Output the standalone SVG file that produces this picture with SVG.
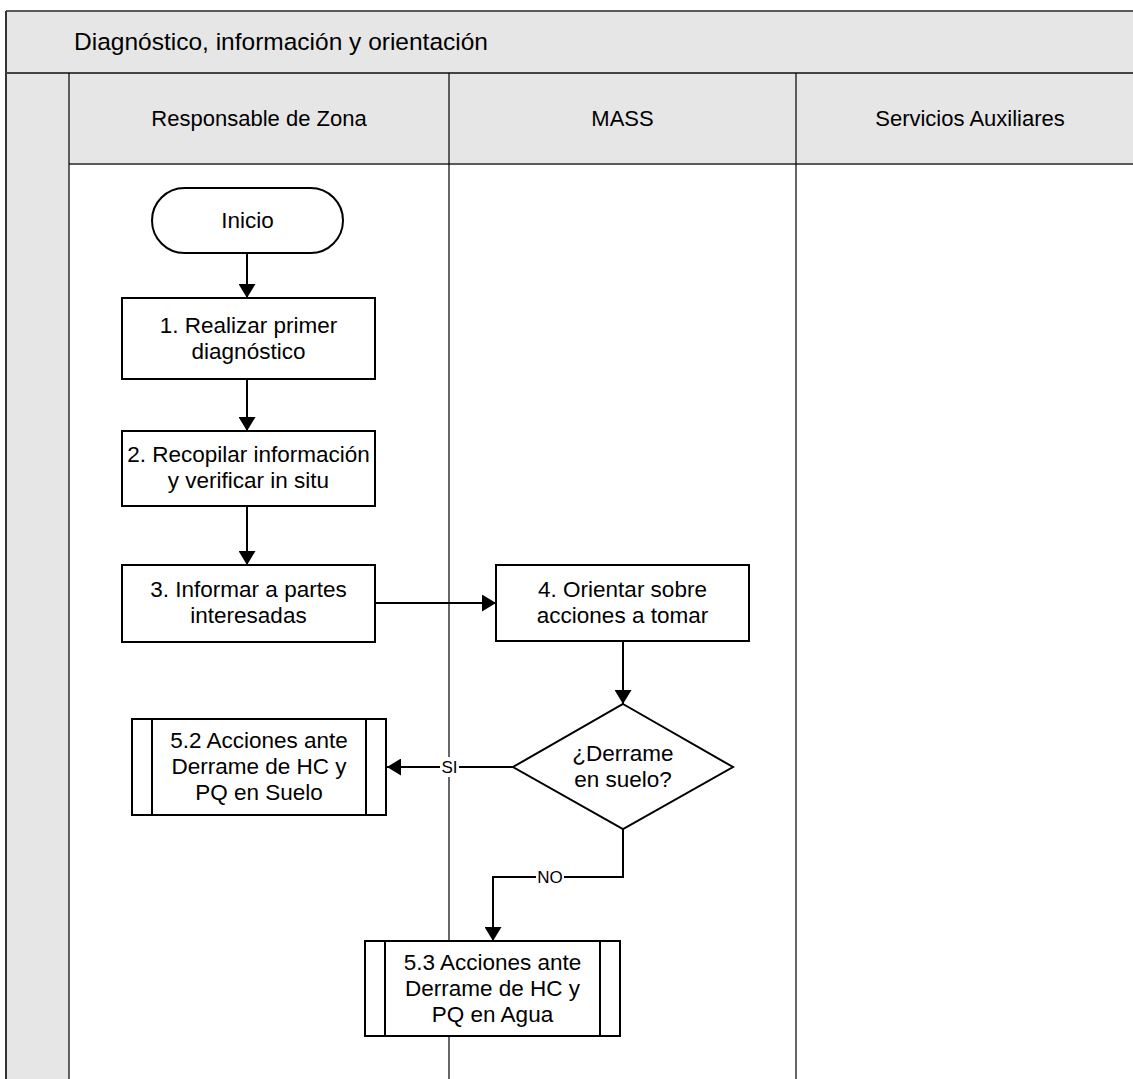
<svg xmlns="http://www.w3.org/2000/svg" width="1133" height="1079" viewBox="0 0 1133 1079">
  <defs>
    <marker id="arrow" markerUnits="userSpaceOnUse" markerWidth="15" markerHeight="17" refX="14" refY="8.5" orient="auto">
      <path d="M0,0 L14,8.5 L0,17 z" fill="#000"/>
    </marker>
    <style>
      text { font-family: "Liberation Sans", Arial, sans-serif; fill: #000; }
      .title { font-size: 24.5px; }
      .lane { font-size: 22px; text-anchor: middle; }
      .nt { font-size: 22.5px; text-anchor: middle; }
      .lbl { font-size: 17px; text-anchor: middle; }
      .shape { fill: #fff; stroke: #000; stroke-width: 2; }
      .conn { fill: none; stroke: #000; stroke-width: 2; }
      .band { fill: #e6e6e6; }
      .divider { stroke: #000; stroke-width: 1.2; }
    </style>
  </defs>

  <!-- Pool / swimlane frame -->
  <g id="pool">
    <rect x="6" y="11" width="1140" height="1080" fill="#fff" stroke="none"/>
    <rect class="band" x="6" y="11" width="1140" height="62"/>
    <rect class="band" x="6" y="73" width="63" height="1010"/>
    <rect class="band" x="69" y="73" width="1080" height="91"/>
    <line x1="6" y1="11" x2="1140" y2="11" stroke="#5a5a5a" stroke-width="2"/>
    <line x1="6" y1="11" x2="6" y2="1085" stroke="#333" stroke-width="2"/>
    <line x1="6" y1="73" x2="1140" y2="73" stroke="#444" stroke-width="2"/>
    <line x1="69" y1="164" x2="1140" y2="164" stroke="#5a5a5a" stroke-width="2"/>
    <line class="divider" x1="69" y1="73" x2="69" y2="1085" stroke-width="1.5"/>
    <line class="divider" x1="449" y1="73" x2="449" y2="1085"/>
    <line class="divider" x1="796" y1="73" x2="796" y2="1085"/>
    <text class="title" x="74" y="50">Diagnóstico, información y orientación</text>
    <text class="lane" x="259" y="126">Responsable de Zona</text>
    <text class="lane" x="622.5" y="126">MASS</text>
    <text class="lane" x="970" y="126">Servicios Auxiliares</text>
  </g>

  <!-- Connectors -->
  <g id="connectors">
    <line class="conn" x1="247" y1="253" x2="247" y2="298" marker-end="url(#arrow)"/>
    <line class="conn" x1="247" y1="379" x2="247" y2="431" marker-end="url(#arrow)"/>
    <line class="conn" x1="247" y1="506" x2="247" y2="565" marker-end="url(#arrow)"/>
    <line class="conn" x1="375" y1="603" x2="496" y2="603" marker-end="url(#arrow)"/>
    <line class="conn" x1="623" y1="641" x2="623" y2="704" marker-end="url(#arrow)"/>
    <g id="conn-si">
      <line class="conn" x1="513" y1="767" x2="387" y2="767" marker-end="url(#arrow)"/>
      <rect x="440" y="757" width="19" height="20" fill="#fff"/>
      <text class="lbl" x="449.5" y="773">SI</text>
    </g>
    <g id="conn-no">
      <polyline class="conn" points="623,829 623,877 493,877 493,941" marker-end="url(#arrow)"/>
      <rect x="536" y="867" width="28" height="20" fill="#fff"/>
      <text class="lbl" x="550" y="883">NO</text>
    </g>
  </g>

  <!-- Nodes -->
  <g id="inicio">
    <rect class="shape" x="152" y="188" width="191" height="65" rx="32.5" ry="32.5"/>
    <text class="nt" x="247.5" y="228">Inicio</text>
  </g>
  <g id="n1">
    <rect class="shape" x="122" y="298" width="253" height="81"/>
    <text class="nt" x="248.5" y="333">1. Realizar primer</text>
    <text class="nt" x="248.5" y="359">diagnóstico</text>
  </g>
  <g id="n2">
    <rect class="shape" x="122" y="431" width="253" height="75"/>
    <text class="nt" x="248.5" y="462">2. Recopilar información</text>
    <text class="nt" x="248.5" y="488">y verificar in situ</text>
  </g>
  <g id="n3">
    <rect class="shape" x="122" y="565" width="253" height="77"/>
    <text class="nt" x="248.5" y="597">3. Informar a partes</text>
    <text class="nt" x="248.5" y="623">interesadas</text>
  </g>
  <g id="n4">
    <rect class="shape" x="496" y="565" width="253" height="76"/>
    <text class="nt" x="622.5" y="597">4. Orientar sobre</text>
    <text class="nt" x="622.5" y="623">acciones a tomar</text>
  </g>
  <g id="d5">
    <polygon class="shape" points="623,704 733,767 623,829 513,767"/>
    <text class="nt" x="623" y="761">¿Derrame</text>
    <text class="nt" x="623" y="787">en suelo?</text>
  </g>
  <g id="p52">
    <rect class="shape" x="132" y="719" width="254" height="96"/>
    <line class="conn" x1="152" y1="719" x2="152" y2="815"/>
    <line class="conn" x1="366" y1="719" x2="366" y2="815"/>
    <text class="nt" x="259" y="748">5.2 Acciones ante</text>
    <text class="nt" x="259" y="774">Derrame de HC y</text>
    <text class="nt" x="259" y="800">PQ en Suelo</text>
  </g>
  <g id="p53">
    <rect class="shape" x="365" y="941" width="255" height="95"/>
    <line class="conn" x1="385" y1="941" x2="385" y2="1036"/>
    <line class="conn" x1="600" y1="941" x2="600" y2="1036"/>
    <text class="nt" x="492.5" y="970">5.3 Acciones ante</text>
    <text class="nt" x="492.5" y="996">Derrame de HC y</text>
    <text class="nt" x="492.5" y="1022">PQ en Agua</text>
  </g>
</svg>
